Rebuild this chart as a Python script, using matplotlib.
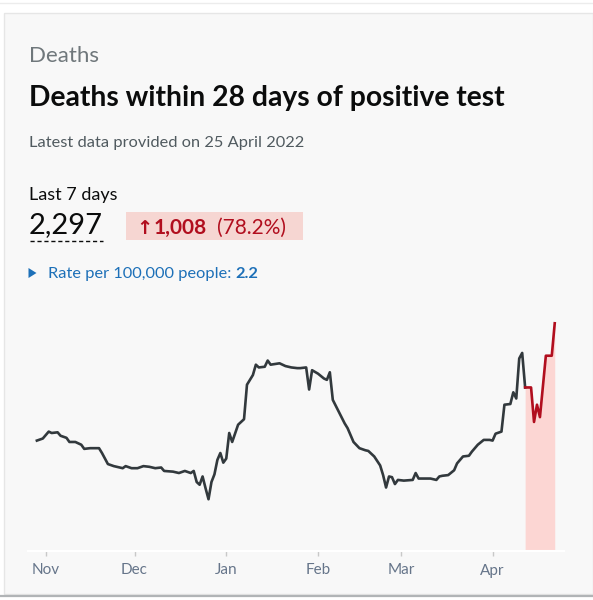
import matplotlib
matplotlib.use("Agg")
import matplotlib.pyplot as plt
import matplotlib.dates as mdates
from matplotlib.patches import Rectangle, Polygon
from matplotlib.lines import Line2D
import pandas as pd

# daily deaths (day 0 = 1 Nov 2021)
start_date = "2021-11-01"
days = [-3, -1, 1, 2, 4, 5, 7, 8, 10, 12, 13, 15, 18, 19, 21, 23, 26, 27, 29, 31,
        33, 35, 37, 39, 40, 43, 45, 47, 49, 50, 51, 52, 53, 54, 55, 56, 57, 58, 59, 60,
        61, 62, 63, 65, 67, 68, 70, 71, 72, 74, 75, 76, 79, 81, 83, 85, 86, 88, 89, 90,
        92, 94, 95, 96, 97, 99, 101, 102, 104, 106, 108, 109, 111, 113, 114, 115, 116, 117, 118, 119,
        121, 124, 125, 126, 129, 130, 132, 133, 134, 136, 138, 139, 141, 143, 144, 146, 148, 150, 151, 152,
        154, 155, 157, 158, 159, 160, 161, 162]
deaths = [160, 163, 173, 171, 172, 167, 164, 158, 158, 154, 148, 149, 149, 142, 126, 123, 120, 123, 120, 120,
          123, 122, 120, 121, 116, 115, 113, 116, 113, 116, 100, 96, 108, 91, 75, 100, 111, 132, 142, 128,
          134, 171, 158, 183, 191, 241, 255, 270, 266, 267, 276, 270, 272, 268, 266, 265, 265, 266, 234, 262,
          257, 250, 248, 259, 219, 202, 185, 178, 158, 149, 146, 145, 137, 124, 110, 92, 108, 107, 97, 103,
          102, 103, 113, 105, 105, 105, 103, 108, 109, 110, 117, 127, 137, 138, 144, 154, 161, 161, 160, 170,
          173, 212, 213, 230, 221, 279, 287, 237]

# incomplete recent data (shown in red)
recent_days = [162, 164, 165, 166, 167, 169, 171, 172]
recent_deaths = [237, 237, 187, 212, 194, 283, 283, 330]

month_labels = ["Nov", "Dec", "Jan", "Feb", "Mar", "Apr"]

W, H = 593, 600


def fx(x):
    return x / W


def fy(y):
    return 1 - y / H


plt.rcParams["font.family"] = ["Lato", "DejaVu Sans"]

fig = plt.figure(figsize=(W / 100, H / 100), dpi=100)
fig.patch.set_facecolor("white")

# card
fig.patches.append(Rectangle((fx(4), fy(594)), fx(593) - fx(4), fy(13) - fy(594),
                             transform=fig.transFigure, facecolor="#f8f8f8",
                             edgecolor="#e6e6e6", linewidth=1, zorder=-10))
fig.lines.append(Line2D([0, 1], [fy(3), fy(3)], transform=fig.transFigure,
                        color="#ececec", linewidth=1))
fig.lines.append(Line2D([0, 1], [fy(596), fy(596)], transform=fig.transFigure,
                        color="#b1b4b6", linewidth=1.6))

# header texts
fig.text(fx(29), fy(61.5), "Deaths", fontsize=16, color="#6f777b", va="baseline")
fig.text(fx(29), fy(106), "Deaths within 28 days of positive test", fontsize=20.3,
         fontweight="bold", color="#0b0c0c", va="baseline")
fig.text(fx(29), fy(146.5), "Latest data provided on 25 April 2022", fontsize=11.8,
         color="#505a5f", va="baseline")
fig.text(fx(29), fy(200), "Last 7 days", fontsize=13, color="#0b0c0c", va="baseline")
fig.text(fx(28.5), fy(233.5), "2,297", fontsize=21, color="#0b0c0c", va="baseline")
fig.lines.append(Line2D([fx(29.5), fx(103)], [fy(241), fy(241)], transform=fig.transFigure,
                        color="#0b0c0c", linewidth=1, linestyle=(0, (3, 2))))

# change badge
fig.patches.append(Rectangle((fx(126), fy(240)), fx(303) - fx(126), fy(211.5) - fy(240),
                             transform=fig.transFigure, facecolor="#f6d6d2", edgecolor="none",
                             zorder=-5))
fig.text(fx(136), fy(233.5), "\u2191", fontsize=14, fontweight="bold", color="#b10e1e",
         va="baseline", family=["DejaVu Sans"])
fig.text(fx(154), fy(233.5), "1,008", fontsize=15, fontweight="bold", color="#b10e1e",
         va="baseline")
fig.text(fx(217), fy(233.5), "(78.2%)", fontsize=15, color="#b10e1e", va="baseline")

# rate line
fig.patches.append(Polygon([[fx(28.5), fy(268)], [fx(28.5), fy(278)], [fx(36.5), fy(273)]],
                           closed=True, transform=fig.transFigure, facecolor="#1d70b8",
                           edgecolor="none"))
t = fig.text(fx(48), fy(278), "Rate per 100,000 people: ", fontsize=11.8, color="#1d70b8",
             va="baseline")
fig.canvas.draw()
bb = t.get_window_extent()
fig.text(bb.x1 / W, fy(278), "2.2", fontsize=11.8, fontweight="bold", color="#1d70b8",
         va="baseline")

# chart
x = pd.Timestamp(start_date) + pd.to_timedelta(days, unit="D")
xr = pd.Timestamp(start_date) + pd.to_timedelta(recent_days, unit="D")

ax = fig.add_axes([fx(28), fy(551), fx(564.5) - fx(28), fy(315) - fy(551)])
ax.set_facecolor("none")
ax.fill_between(xr, 0, recent_deaths, color="#fcd6d3", linewidth=0)
ax.plot(x, deaths, color="#32393d", linewidth=1.9, solid_joinstyle="round")
ax.plot(xr, recent_deaths, color="#b10e1e", linewidth=1.9, solid_joinstyle="round")

ax.set_xlim(pd.Timestamp(start_date) - pd.Timedelta(days=6),
            pd.Timestamp(start_date) + pd.Timedelta(days=175.3))
ax.set_ylim(0, 342)
for s in ["top", "right", "left"]:
    ax.spines[s].set_visible(False)
ax.spines["bottom"].set_color("white")
ax.spines["bottom"].set_linewidth(1.5)
ax.set_yticks([])
ax.xaxis.set_major_locator(mdates.MonthLocator())
ax.set_xticks(ax.get_xticks())
ax.set_xticklabels(month_labels)
ax.tick_params(axis="x", length=3.5, width=1, color="#c8c8c8", pad=5.5,
               labelsize=11, labelcolor="#66758a")

fig.savefig("out.png", dpi=100, facecolor="white")
